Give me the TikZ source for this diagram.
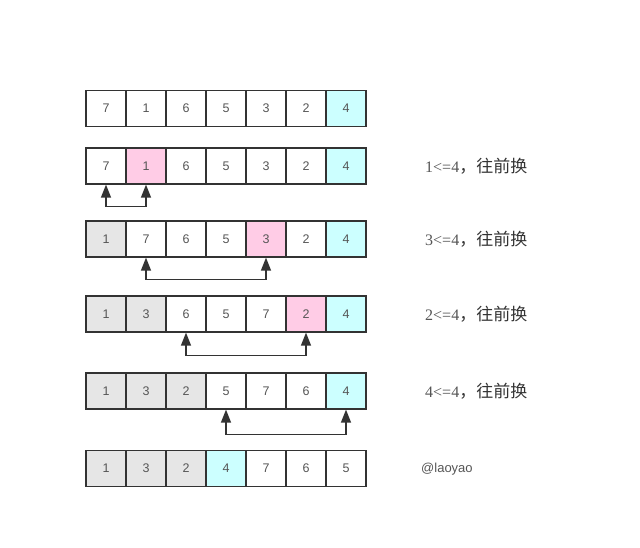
\documentclass[tikz,border=0pt]{standalone}
\usepackage{fontspec}
\setmainfont{Liberation Sans}
\newfontfamily\serifnum{Liberation Serif}
\newfontfamily\cjk{Noto Sans CJK SC}
\usetikzlibrary{arrows.meta}
\definecolor{cw}{HTML}{FFFFFF}
\definecolor{cg}{HTML}{E6E6E6}
\definecolor{cp}{HTML}{FFCCE6}
\definecolor{cc}{HTML}{CCFFFF}
\definecolor{edge}{HTML}{333333}
\definecolor{numtxt}{HTML}{555555}
\newcommand\cellrow[3]{%
  \foreach \v/\f [count=\c] in {#3} {
    \node[cell,fill=\f] (r#1c\c) at ({106+40*(\c-1)},#2) {\v};
  }%
}
\tikzset{
  cell/.style={draw=edge,line width=1.3pt,minimum width=40pt,minimum height=36pt,
    inner sep=0pt,text=numtxt,font=\fontsize{12.5}{14}\selectfont},
  swaparrow/.style={draw=edge,line width=1.4pt,
    {Triangle[length=13pt,width=10pt]}-{Triangle[length=13pt,width=10pt]}},
  note/.style={anchor=west,inner sep=0pt,text=numtxt,font=\fontsize{16}{18}\selectfont},
  credit/.style={anchor=west,inner sep=0pt,text=numtxt,font=\fontsize{13}{15}\selectfont}
}
\begin{document}
\begin{tikzpicture}[x=1pt,y=-1pt]
\useasboundingbox (0,0) rectangle (640,548);
\cellrow{1}{108.5}{7/cw,1/cw,6/cw,5/cw,3/cw,2/cw,4/cc}
\cellrow{2}{166}{7/cw,1/cp,6/cw,5/cw,3/cw,2/cw,4/cc}
\cellrow{3}{239}{1/cg,7/cw,6/cw,5/cw,3/cp,2/cw,4/cc}
\cellrow{4}{314}{1/cg,3/cg,6/cw,5/cw,7/cw,2/cp,4/cc}
\cellrow{5}{391}{1/cg,3/cg,2/cg,5/cw,7/cw,6/cw,4/cc}
\cellrow{6}{468.5}{1/cg,3/cg,2/cg,4/cc,7/cw,6/cw,5/cw}
\draw[swaparrow] (r2c1.south) -- ++(0,22) -| (r2c2.south);
\draw[swaparrow] (r3c2.south) -- ++(0,22) -| (r3c5.south);
\draw[swaparrow] (r4c3.south) -- ++(0,23) -| (r4c6.south);
\draw[swaparrow] (r5c4.south) -- ++(0,25) -| (r5c7.south);
\node[note] (l2) at (425,166) {{\serifnum 1<=4}{\cjk\fontsize{17}{19}\selectfont\color{edge}，往前换}};
\node[note] (l3) at (425,239) {{\serifnum 3<=4}{\cjk\fontsize{17}{19}\selectfont\color{edge}，往前换}};
\node[note] (l4) at (425,314) {{\serifnum 2<=4}{\cjk\fontsize{17}{19}\selectfont\color{edge}，往前换}};
\node[note] (l5) at (425,391) {{\serifnum 4<=4}{\cjk\fontsize{17}{19}\selectfont\color{edge}，往前换}};
\node[credit] (cr) at (421,469) {@laoyao};
\end{tikzpicture}
\end{document}
